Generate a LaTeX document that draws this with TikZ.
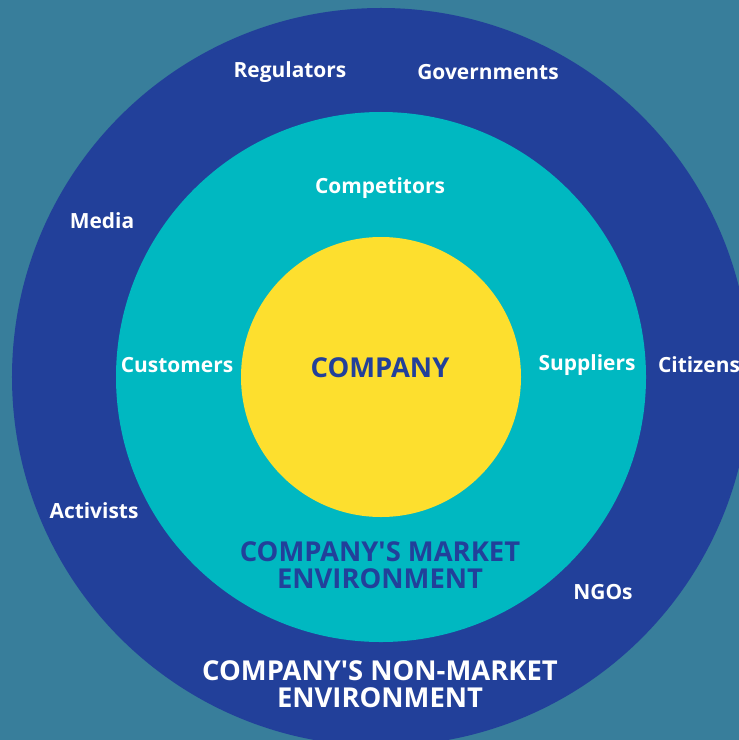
\documentclass[tikz,border=0pt]{standalone}
\usepackage{fontspec}
\setmainfont{Open Sans}
\definecolor{bgteal}{HTML}{387E9B}
\definecolor{ringblue}{HTML}{22409A}
\definecolor{ringcyan}{HTML}{00B8C1}
\definecolor{coreyellow}{HTML}{FDDF2E}
\tikzset{
  ring/.style={circle, draw=none, inner sep=0pt, minimum size=#1},
  actor/.style={text=white, font=\bfseries\fontsize{21}{24}\selectfont},
  zone/.style={align=center, font=\bfseries\fontsize{27.5}{26.5}\selectfont},
}
\begin{document}
\begin{tikzpicture}[x=1bp,y=-1bp]
  % page and background
  \fill[bgteal] (0,0) rectangle (739,740);
  \useasboundingbox (0,0) rectangle (739,740);
  \clip (0,0) rectangle (739,740);
  % the three rings, outside in
  \node[ring=738bp, fill=ringblue] (nonmarket) at (381,377) {};
  \node[ring=530bp, fill=ringcyan] (market) at (381,377) {};
  \node[ring=280bp, fill=coreyellow] (company) at (381,377) {};
  \node[text=ringblue, font=\bfseries\fontsize{27.5}{30}\selectfont] (companylbl) at (380,368) {COMPANY};
  % market actors
  \node[actor] (competitors) at (380,188) {Competitors};
  \node[actor] (customers) at (177,365) {Customers};
  \node[actor] (suppliers) at (587,365) {Suppliers};
  \node[zone, text=ringblue] (marketlbl) at (380,565) {COMPANY\textquotesingle S MARKET\\ENVIRONMENT};
  % non-market actors
  \node[actor] (regulators) at (290,72) {Regulators};
  \node[actor] (governments) at (488,72) {Governments};
  \node[actor] (media) at (102,221) {Media};
  \node[actor] (citizens) at (699,365) {Citizens};
  \node[actor] (activists) at (94,511) {Activists};
  \node[actor] (ngos) at (603,592) {NGOs};
  \node[zone, text=white] (nonmarketlbl) at (380,684) {COMPANY\textquotesingle S NON-MARKET\\ENVIRONMENT};
\end{tikzpicture}
\end{document}
